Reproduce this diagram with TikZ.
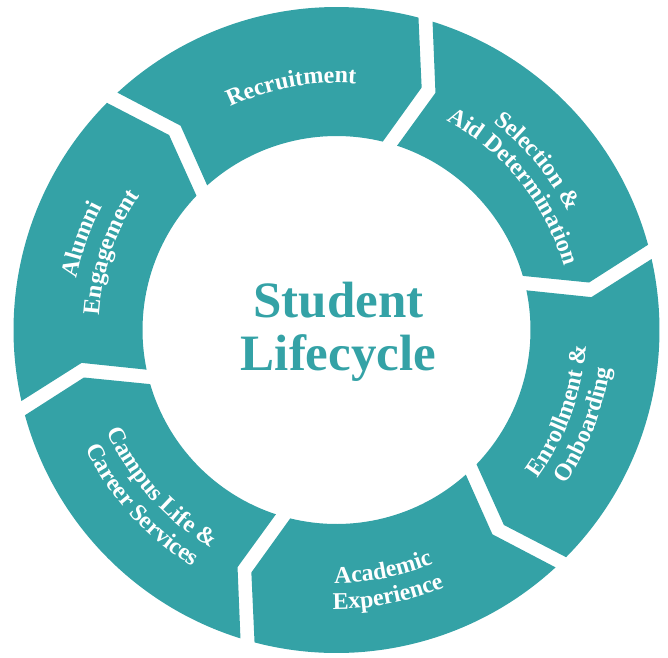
\documentclass[tikz,border=0pt]{standalone}
\usepackage{fontspec}
\setmainfont{Liberation Serif}
\usepackage{tikz}
\usetikzlibrary{decorations.text}

\definecolor{ringteal}{RGB}{52,162,166}
\newcommand{\seglbl}{\color{white}\bfseries\fontsize{24}{28}\selectfont}

\begin{document}
\begin{tikzpicture}[
    ringtext/.style={decorate,decoration={text along path,text align=center,text={|\seglbl|#1}}},
    title/.style={text=ringteal,font=\bfseries\fontsize{51}{53}\selectfont,align=center,inner sep=0pt}
  ]
  \useasboundingbox (-336.5pt,-327pt) rectangle (331.5pt,330pt);

  % six segments, each one pointing clockwise into the next
  \foreach \b in {14,74,134,194,254,314}{
    \pgfmathsetmacro{\a}{\b+60}
    \fill[ringteal] ({\a-1.3}:323pt) arc[start angle=\a-1.3,end angle=\b+1.3,radius=323pt]
      -- ({\b-3.35}:257pt) -- ({\b+2.2}:194pt)
      arc[start angle=\b+2.2,end angle=\a-2.2,radius=194pt]
      -- ({\a-6.65}:257pt) -- cycle;
  }

  \node[title] (title) at (2pt,-2pt) {Student\\Lifecycle};

  % upper half: read clockwise
  \path[ringtext={Recruitment}] (145.5:247pt) arc[start angle=145.5,end angle=55.5,radius=247pt];
  \path[ringtext={Selection {\&}}] (85:260pt) arc[start angle=85,end angle=-5,radius=260pt];
  \path[ringtext={Aid Determination}] (84:236pt) arc[start angle=84,end angle=-6,radius=236pt];
  \path[ringtext={Alumni}] (205.5:265pt) arc[start angle=205.5,end angle=115.5,radius=265pt];
  \path[ringtext={Engagement}] (206:238pt) arc[start angle=206,end angle=116,radius=238pt];

  % lower half: read counter-clockwise
  \path[ringtext={Enrollment {\&}}] (-65:250pt) arc[start angle=-65,end angle=25,radius=250pt];
  \path[ringtext={Onboarding}] (-66:276pt) arc[start angle=-66,end angle=24,radius=276pt];
  \path[ringtext={Academic}] (-124:253pt) arc[start angle=-124,end angle=-34,radius=253pt];
  \path[ringtext={Experience}] (-124:279pt) arc[start angle=-124,end angle=-34,radius=279pt];
  \path[ringtext={Campus Life {\&}}] (-183:251pt) arc[start angle=-183,end angle=-93,radius=251pt];
  \path[ringtext={Career Services}] (-183:277pt) arc[start angle=-183,end angle=-93,radius=277pt];
\end{tikzpicture}
\end{document}
